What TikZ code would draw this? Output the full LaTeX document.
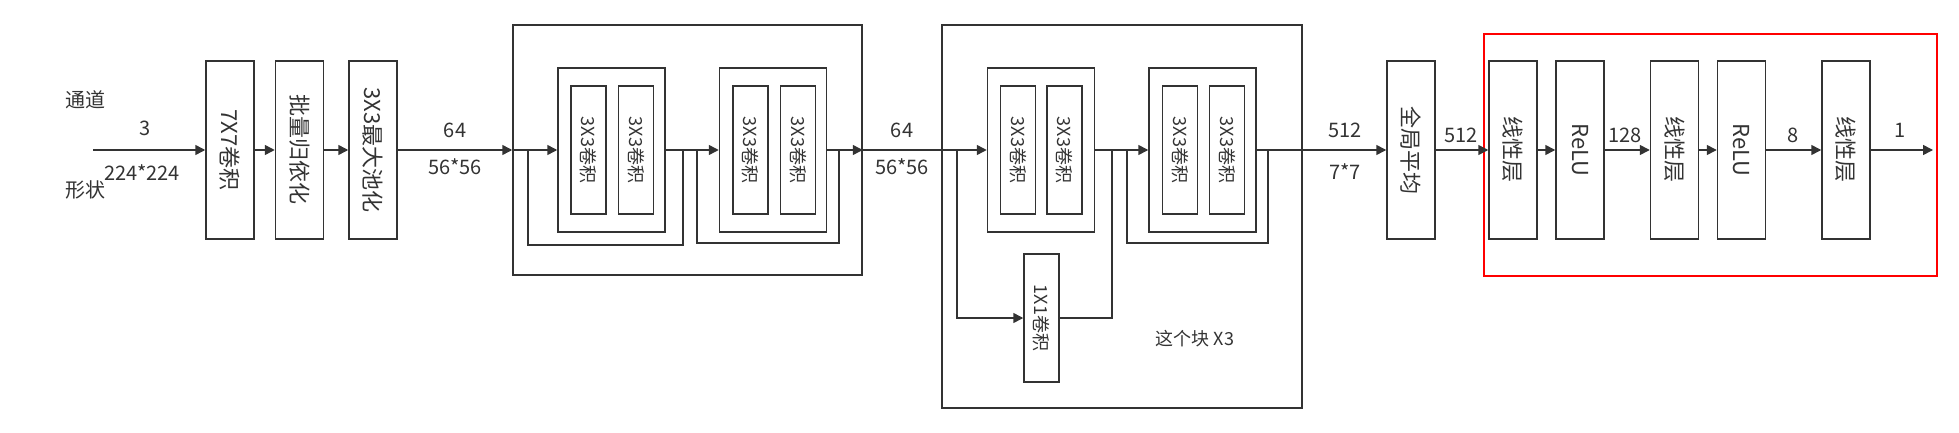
\documentclass[tikz,border=0pt]{standalone}
\usepackage{fontspec}
\setmainfont{Noto Sans CJK SC}
\usetikzlibrary{arrows.meta}
\definecolor{ink}{HTML}{333333}

\begin{document}
\begin{tikzpicture}[x=0.5pt,y=-0.5pt,>={Triangle[length=5pt,width=5pt]},
                    color=ink,line width=0.75pt,
    layer node/.style={draw,rotate=-90,minimum width=89pt,minimum height=24pt,inner sep=0pt,font=\fontsize{11}{13}\selectfont},
    conv node/.style={draw,rotate=-90,minimum width=64pt,minimum height=17.5pt,inner sep=0pt,font=\fontsize{9}{11}\selectfont},
    res node/.style={draw,minimum width=53.5pt,minimum height=82pt,inner sep=0pt},
    label node/.style={inner sep=0pt,font=\fontsize{10}{12}\selectfont}]

  \useasboundingbox (0,0) rectangle (1959,433);

  \node[draw,minimum width=174.5pt,minimum height=125pt] (blk1) at (687.5,150) {};
  \node[draw,minimum width=180pt,minimum height=191.5pt] (blk2) at (1122,216.5) {};
  \node[draw=red,line width=1pt,minimum width=226.5pt,minimum height=121pt] (head) at (1710.5,155) {};

  \node[layer node] (c7) at (230,150) {7X7卷积};
  \node[layer node] (bn) at (299.5,150) {批量归依化};
  \node[layer node] (pool) at (373,150) {3X3最大池化};

  \node[res node] (ra) at (611.5,150) {};
  \node[conv node] (a1) at (588.5,150) {3X3卷积};
  \node[conv node] (a2) at (636,150) {3X3卷积};
  \node[res node] (rb) at (773,150) {};
  \node[conv node] (b1) at (750.5,150) {3X3卷积};
  \node[conv node] (b2) at (798,150) {3X3卷积};

  \node[res node] (rc) at (1041,150) {};
  \node[conv node] (c1) at (1018,150) {3X3卷积};
  \node[conv node] (c2) at (1064.5,150) {3X3卷积};
  \node[res node] (rd) at (1202.5,150) {};
  \node[conv node] (d1) at (1180,150) {3X3卷积};
  \node[conv node] (d2) at (1227,150) {3X3卷积};
  \node[conv node] (c1x1) at (1041.5,318) {1X1卷积};
  \node[label node,font=\fontsize{9}{11}\selectfont] (times) at (1195,339) {这个块 X3};

  \node[layer node] (gap) at (1411,150) {全局平均};
  \node[layer node] (l1) at (1513,150) {线性层};
  \node[layer node] (r1) at (1580,150) {ReLU};
  \node[layer node] (l2) at (1674.5,150) {线性层};
  \node[layer node] (r2) at (1741.5,150) {ReLU};
  \node[layer node] (l3) at (1846,150) {线性层};

  \node[label node] (chan) at (85,100) {通道};
  \node[label node] (shape) at (85,190) {形状};
  \node[label node] (n3) at (145,128) {3};
  \node[label node] (n224) at (142,173) {224*224};
  \node[label node] (n64a) at (455,130) {64};
  \node[label node] (n56a) at (455,167) {56*56};
  \node[label node] (n64b) at (902,130) {64};
  \node[label node] (n56b) at (902,167) {56*56};
  \node[label node] (n512a) at (1345,130) {512};
  \node[label node] (n77) at (1345,172) {7*7};
  \node[label node] (n512b) at (1461,135) {512};
  \node[label node] (n128) at (1625,135) {128};
  \node[label node] (n8) at (1793,135) {8};
  \node[label node] (n1) at (1900,130) {1};

  \coordinate (in) at (93,150);
  \coordinate (out) at (1933,150);
  \coordinate (sa) at (528,150);
  \coordinate (sb) at (683,150);
  \coordinate (sc) at (697,150);
  \coordinate (sd) at (839,150);
  \coordinate (se) at (957,150);
  \coordinate (sf) at (1112,150);
  \coordinate (sg) at (1127,150);
  \coordinate (sh) at (1268,150);

  \path[->]
    (in) edge (c7)
    (c7) edge (bn)
    (bn) edge (pool)
    (pool) edge (blk1.west)
    (blk1.west) edge (ra)
    (ra) edge (rb)
    (rb) edge (blk1.east)
    (blk1.east) edge (rc)
    (rc) edge (rd)
    (rd) edge (gap)
    (gap) edge (l1)
    (l1) edge (r1)
    (r1) edge (l2)
    (l2) edge (r2)
    (r2) edge (l3)
    (l3) edge (out);
  \draw (sa) -- ++(0,95) -| (sb);
  \draw (sc) -- ++(0,93) -| (sd);
  \draw (sg) -- ++(0,93) -| (sh);
  \draw[->] (se) |- (c1x1);
  \draw (c1x1) -| (sf);
\end{tikzpicture}
\end{document}
